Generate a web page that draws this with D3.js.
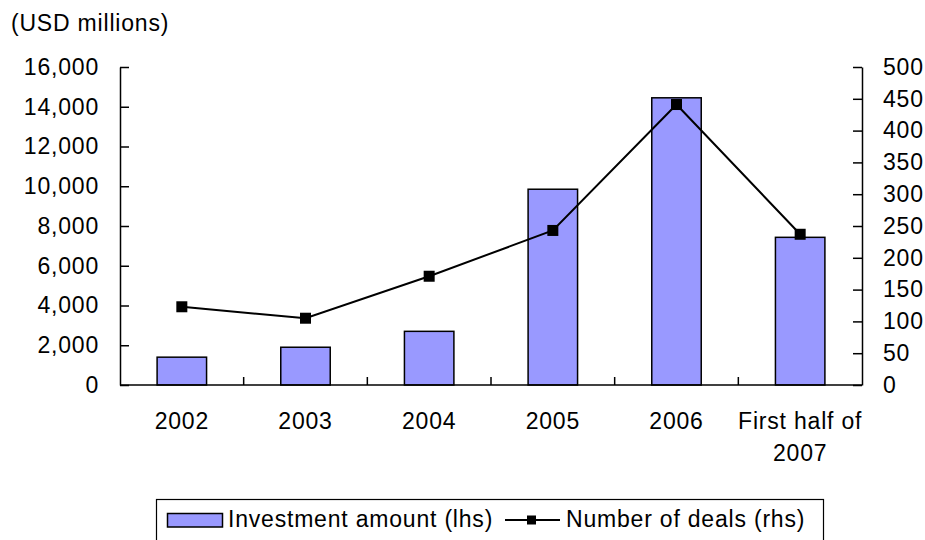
<!DOCTYPE html>
<html>
<head>
<meta charset="utf-8">
<script src="https://cdn.jsdelivr.net/npm/d3@7"></script>
<style>
  html, body { margin: 0; padding: 0; background: #fff; }
  svg { display: block; }
  text { font-family: "Liberation Sans", Arial, sans-serif; fill: #000; letter-spacing: 0.8px; }
</style>
</head>
<body>
<svg id="chart" width="925" height="540"></svg>
<script>
// ---- data ----
const categories = ["2002", "2003", "2004", "2005", "2006", "First half of 2007"];
const categoryLines = [["2002"], ["2003"], ["2004"], ["2005"], ["2006"], ["First half of", "2007"]];
const investmentAmount = [1400, 1900, 2700, 9850, 14450, 7430];   // USD millions (lhs)
const numberOfDeals = [123, 105, 171, 243, 441, 237];             // rhs
const leftTicks = [0, 2000, 4000, 6000, 8000, 10000, 12000, 14000, 16000];
const rightTicks = [0, 50, 100, 150, 200, 250, 300, 350, 400, 450, 500];
const unitLabel = "(USD millions)";
const seriesNames = ["Investment amount (lhs)", "Number of deals (rhs)"];

// ---- layout ----
(function () {
const svg = d3.select("#chart");
const pL = 120, pR = 862, pT = 67, pB = 385;
const fontSize = 23;
const barFill = "#9999FF";

const x = d3.scaleBand().domain(categories).range([pL, pR])
  .paddingInner(0.6).paddingOuter(0.3);
const step = x.step();
const center = c => x(c) + x.bandwidth() / 2;
const yL = d3.scaleLinear().domain([0, 16000]).range([pB, pT]);
const yR = d3.scaleLinear().domain([0, 500]).range([pB, pT]);

// bars
svg.append("g").selectAll("rect").data(investmentAmount).join("rect")
  .attr("x", (d, i) => x(categories[i]))
  .attr("y", d => yL(d))
  .attr("width", x.bandwidth())
  .attr("height", d => yL(0) - yL(d))
  .attr("fill", barFill)
  .attr("stroke", "#000")
  .attr("stroke-width", 1.5);

// line
const line = d3.line().x((d, i) => center(categories[i])).y(d => yR(d));
svg.append("path").datum(numberOfDeals)
  .attr("d", line).attr("fill", "none")
  .attr("stroke", "#000").attr("stroke-width", 2);
svg.append("g").selectAll("rect").data(numberOfDeals).join("rect")
  .attr("x", (d, i) => center(categories[i]) - 5.5)
  .attr("y", d => yR(d) - 5.5)
  .attr("width", 11).attr("height", 11)
  .attr("fill", "#000");

// left axis
const gL = svg.append("g").attr("transform", `translate(${pL},0)`)
  .call(d3.axisLeft(yL).tickValues(leftTicks).tickFormat(d3.format(",")).tickSizeInner(-9).tickSizeOuter(0).tickPadding(21));
// right axis
const gR = svg.append("g").attr("transform", `translate(${pR},0)`)
  .call(d3.axisRight(yR).tickValues(rightTicks).tickSizeInner(-9).tickSizeOuter(0).tickPadding(21));
[gL, gR].forEach(g => {
  g.selectAll("path, line").attr("stroke", "#000").attr("stroke-width", 1.5);
  g.selectAll("text").attr("font-size", fontSize)
    .attr("font-family", "'Liberation Sans', Arial, sans-serif").attr("fill", "#000");
});

// x axis
svg.append("line").attr("x1", pL).attr("x2", pR).attr("y1", pB).attr("y2", pB)
  .attr("stroke", "#000").attr("stroke-width", 1.5);
svg.append("g").selectAll("line").data(categories.slice(1)).join("line")
  .attr("x1", c => center(c) - step / 2).attr("x2", c => center(c) - step / 2)
  .attr("y1", pB).attr("y2", pB - 8)
  .attr("stroke", "#000").attr("stroke-width", 1.5);
const xl = svg.append("g").selectAll("text").data(categories).join("text")
  .attr("x", c => center(c)).attr("y", 429)
  .attr("text-anchor", "middle").attr("font-size", fontSize);
xl.each(function(c, i) {
  d3.select(this).selectAll("tspan").data(categoryLines[i]).join("tspan")
    .attr("x", center(c)).attr("dy", (d, j) => j === 0 ? 0 : 32).text(d => d);
});

// unit label
svg.append("text").attr("x", 11).attr("y", 31).attr("font-size", fontSize).text(unitLabel);

// legend
svg.append("rect").attr("x", 156.5).attr("y", 499.5).attr("width", 667).attr("height", 60)
  .attr("fill", "#fff").attr("stroke", "#000").attr("stroke-width", 1.2);
svg.append("rect").attr("x", 167.5).attr("y", 513.5).attr("width", 55).attr("height", 13.5)
  .attr("fill", barFill).attr("stroke", "#000").attr("stroke-width", 1.5);
svg.append("text").attr("x", 228).attr("y", 527).attr("font-size", fontSize).text(seriesNames[0]);
svg.append("line").attr("x1", 505).attr("x2", 560).attr("y1", 520).attr("y2", 520)
  .attr("stroke", "#000").attr("stroke-width", 2);
svg.append("rect").attr("x", 527).attr("y", 515.5).attr("width", 9).attr("height", 9).attr("fill", "#000");
svg.append("text").attr("x", 566).attr("y", 527).attr("font-size", fontSize).text(seriesNames[1]);
})();
</script>
</body>
</html>
